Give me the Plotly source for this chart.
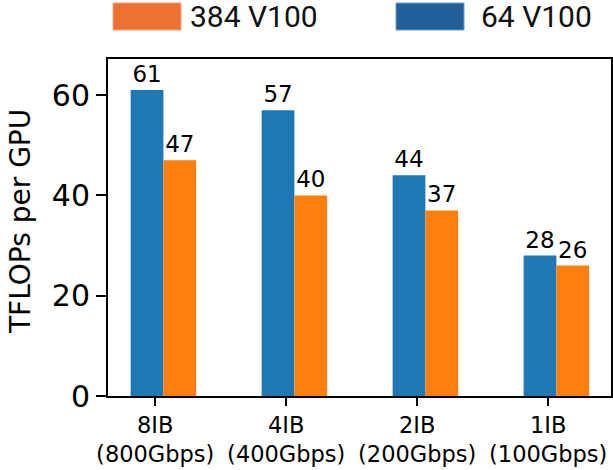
import plotly.graph_objects as go

categories = ["8IB<br>(800Gbps)", "4IB<br>(400Gbps)", "2IB<br>(200Gbps)", "1IB<br>(100Gbps)"]
series_64 = [61, 57, 44, 28]
series_384 = [47, 40, 37, 26]
y_ticks = [0, 20, 40, 60]

W, H = 613, 470
L, R, T, B = 108, 2, 59, 74
pw, ph = W - L - R, H - T - B

def px(x):
    return (x - L) / pw

def py(y):
    return (H - B - y) / ph

BAR_W = 0.25
idx = list(range(len(categories)))

fig = go.Figure()
fig.add_trace(go.Bar(
    x=[i for i in idx], y=series_64, width=BAR_W, name="64 V100",
    marker=dict(color="#1f77b4", line=dict(width=0)),
    text=[str(v) for v in series_64], textposition="outside",
    textfont=dict(family="DejaVu Sans", size=23, color="black"),
    cliponaxis=False, showlegend=False,
))
fig.add_trace(go.Bar(
    x=[i + BAR_W for i in idx], y=series_384, width=BAR_W, name="384 V100",
    marker=dict(color="#ff7f0e", line=dict(width=0)),
    text=[str(v) for v in series_384], textposition="outside",
    textfont=dict(family="DejaVu Sans", size=23, color="black"),
    cliponaxis=False, showlegend=False,
))

shapes = [
    dict(type="rect", xref="paper", yref="paper",
         x0=px(113), x1=px(181), y0=py(30), y1=py(3),
         fillcolor="#EC7133", line=dict(color="#F3A57C", width=1)),
    dict(type="rect", xref="paper", yref="paper",
         x0=px(396), x1=px(464), y0=py(30), y1=py(3),
         fillcolor="#215F9B", line=dict(color="#6E9CCB", width=1)),
]
annotations = [
    dict(text="384 V100", xref="paper", yref="paper", x=px(188), y=py(17),
         xanchor="left", yanchor="middle", showarrow=False,
         font=dict(family="Roboto", size=30, color="#111111")),
    dict(text="64 V100", xref="paper", yref="paper", x=px(479), y=py(17),
         xanchor="left", yanchor="middle", showarrow=False,
         font=dict(family="Roboto", size=30, color="#111111")),
    dict(text="TFLOPs per GPU", xref="paper", yref="paper", x=px(20), y=py(222),
         xanchor="center", yanchor="middle", textangle=-90, showarrow=False,
         font=dict(family="DejaVu Sans", size=28, color="black")),
]

fig.update_layout(
    width=W, height=H,
    margin=dict(l=L, r=R, t=T, b=B, autoexpand=False),
    paper_bgcolor="white", plot_bgcolor="white",
    barmode="overlay",
    shapes=shapes, annotations=annotations,
    xaxis=dict(
        range=[-0.298, 3.542],
        tickmode="array", tickvals=[i + 0.0625 for i in idx], ticktext=categories,
        tickfont=dict(family="DejaVu Sans", size=22.5, color="black"),
        ticks="outside", ticklen=8, tickwidth=2, tickcolor="black",
        showline=True, linecolor="black", linewidth=2, mirror=True,
        showgrid=False, zeroline=False, fixedrange=True,
    ),
    yaxis=dict(
        range=[0, 67.2],
        tickmode="array", tickvals=y_ticks, ticktext=[str(v) for v in y_ticks],
        tickfont=dict(family="DejaVu Sans", size=30, color="black"),
        ticks="outside", ticklen=10, tickwidth=2, tickcolor="black",
        showline=True, linecolor="black", linewidth=2, mirror=True,
        showgrid=False, zeroline=False, fixedrange=True,
    ),
)

fig.write_html(
    "out.html",
    config={"displayModeBar": False},
    post_script="document.body.style.margin='0';document.body.style.overflow='hidden';",
)
